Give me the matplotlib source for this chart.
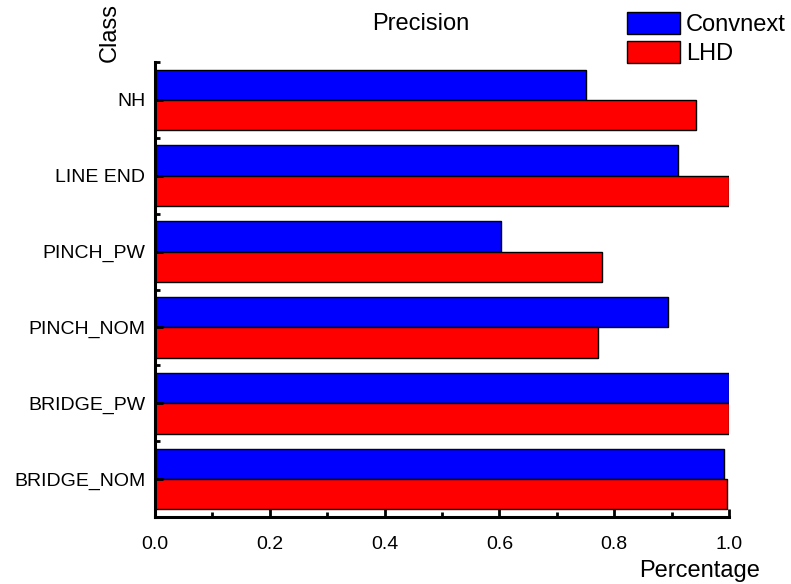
import numpy as np
import matplotlib.pyplot as plt
from matplotlib.ticker import MultipleLocator, FixedLocator

plt.rcParams['font.family'] = ['Liberation Sans', 'DejaVu Sans']

classes = ['NH', 'LINE END', 'PINCH_PW', 'PINCH_NOM', 'BRIDGE_PW', 'BRIDGE_NOM']
convnext = [0.751, 0.911, 0.603, 0.894, 1.0, 0.991]
lhd = [0.942, 1.0, 0.779, 0.772, 1.0, 0.997]

fig = plt.figure(figsize=(7.91, 5.84), dpi=100)
ax = fig.add_axes([155/791, 1-517/584, (729-155)/791, (517-62)/584])

y = np.arange(len(classes))
h = 0.4
ax.barh(y - h/2, convnext, h, color='#0000ff', edgecolor='black', linewidth=1, label='Convnext')
ax.barh(y + h/2, lhd, h, color='#ff0000', edgecolor='black', linewidth=1, label='LHD')

ax.set_ylim(len(classes) - 0.5, -0.5)
ax.set_xlim(0, 1.0)
ax.set_yticks(y)
ax.set_yticklabels(classes)
ax.yaxis.set_minor_locator(FixedLocator(np.arange(len(classes) + 1) - 0.5))
ax.xaxis.set_major_locator(MultipleLocator(0.2))
ax.xaxis.set_minor_locator(MultipleLocator(0.1))
ax.set_xticklabels(['0.0', '0.2', '0.4', '0.6', '0.8', '1.0'])
ax.set_xticks(np.arange(0, 1.01, 0.2))
ax.set_xticklabels(['0.0', '0.2', '0.4', '0.6', '0.8', '1.0'])

for s in ['top', 'right']:
    ax.spines[s].set_visible(False)
for s in ['left', 'bottom']:
    ax.spines[s].set_linewidth(2.2)

ax.tick_params(axis='both', which='major', direction='in', length=6, width=2, labelsize=14)
ax.tick_params(axis='both', which='minor', direction='in', length=3.5, width=2)
ax.tick_params(axis='x', which='major', pad=14)
ax.tick_params(axis='y', which='major', pad=7)

fig.text(421/791, 1-24/584, 'Precision', ha='center', va='center', fontsize=17)
fig.text(110/791, 1-33/584, 'Class', ha='center', va='center', rotation=90, fontsize=17)
fig.text(700/791, 1-571/584, 'Percentage', ha='center', va='center', fontsize=17)

ax.legend(loc='upper left', bbox_to_anchor=(627/791, 1-12/584), bbox_transform=fig.transFigure,
          frameon=False, fontsize=17, handlelength=2.25, handleheight=1.05,
          labelspacing=0.2, handletextpad=0.25, borderpad=0, borderaxespad=0)

fig.savefig('out.png', dpi=100)
